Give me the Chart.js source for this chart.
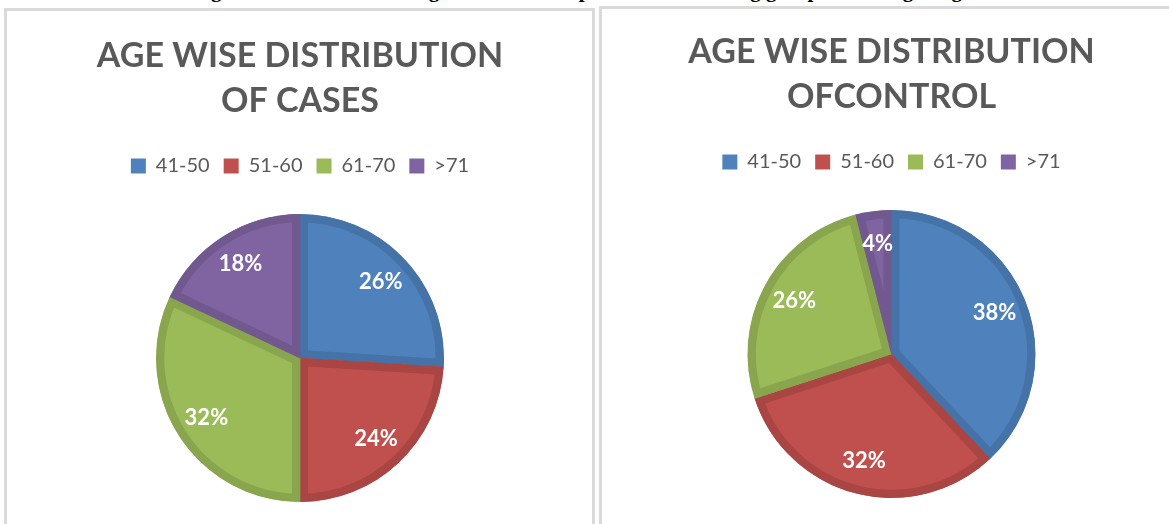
<!DOCTYPE html>
<html>
<head>
    <title>Age wise distribution</title>
    <script src="https://cdn.jsdelivr.net/npm/chart.js"></script>
    <style>
        body { margin: 0; width: 1169px; height: 524px; overflow: hidden; background: #fff; position: relative; }
        .caption { position: absolute; left: 0; width: 1169px; top: -22px; text-align: center;
                   font: bold 21px "Liberation Serif", serif; color: #000; white-space: nowrap; }
        .box { position: absolute; border: 3px solid #dadada; box-sizing: border-box; }
        canvas { position: absolute; }
    </style>
</head>
<body>
    <div class="caption">Figure 3: Pie chart showing distribution of patients in following group according to age.</div>
    <div class="box" style="left:4px; top:8px; width:591px; height:540px;"></div>
    <div class="box" style="left:599px; top:6px; width:600px; height:540px;"></div>
    <canvas id="casesChart" width="586" height="540" style="left:7px; top:12px;"></canvas>
    <canvas id="controlChart" width="583" height="540" style="left:600px; top:8px;"></canvas>
    <script>
        // age groups and percentages
        const ageGroups = ['41-50', '51-60', '61-70', '>71'];
        const casesValues = [26, 24, 32, 18];
        const controlValues = [38, 32, 26, 4];

        const fillColors = ['#4F81BD', '#C0504D', '#9BBB59', '#8064A2'];
        const edgeColors = ['#4572A7', '#A94643', '#89A54E', '#71588F'];

        // draws the white % labels inside the slices
        const sliceLabels = {
            id: 'sliceLabels',
            afterDatasetsDraw(chart) {
                const ctx = chart.ctx;
                const meta = chart.getDatasetMeta(0);
                const values = chart.data.datasets[0].data;
                ctx.save();
                ctx.fillStyle = '#ffffff';
                ctx.font = 'bold 22px Lato';
                ctx.textAlign = 'center';
                ctx.textBaseline = 'middle';
                meta.data.forEach((arc, i) => {
                    const p = arc.getProps(['x', 'y', 'startAngle', 'endAngle', 'outerRadius'], true);
                    const mid = (p.startAngle + p.endAngle) / 2;
                    const r = p.outerRadius * 0.77;
                    ctx.fillText(values[i] + '%', p.x + Math.cos(mid) * r, p.y + Math.sin(mid) * r);
                });
                ctx.restore();
            }
        };

        function makePie(id, title, values) {
            const ctx = document.getElementById(id).getContext('2d');
            return new Chart(ctx, {
                type: 'pie',
                data: {
                    labels: ageGroups,
                    datasets: [{
                        data: values,
                        backgroundColor: fillColors,
                        borderColor: edgeColors,
                        borderWidth: 8,
                        borderAlign: 'inner'
                    }]
                },
                options: {
                    responsive: false,
                    animation: false,
                    radius: 144,
                    layout: { padding: { bottom: 22 } },
                    plugins: {
                        title: {
                            display: true,
                            text: title,
                            color: '#595959',
                            font: { family: 'Lato', size: 34, weight: 'bold', lineHeight: '45px' },
                            padding: { top: 22, bottom: 18 }
                        },
                        legend: {
                            position: 'top',
                            labels: {
                                color: '#595959',
                                font: { family: 'Lato', size: 20 },
                                boxWidth: 15,
                                boxHeight: 15,
                                padding: 14,
                                generateLabels(chart) {
                                    return ageGroups.map((g, i) => ({
                                        text: g,
                                        fillStyle: fillColors[i],
                                        strokeStyle: fillColors[i],
                                        lineWidth: 0,
                                        fontColor: '#595959',
                                        index: i
                                    }));
                                }
                            }
                        },
                        tooltip: { enabled: false }
                    }
                },
                plugins: [sliceLabels]
            });
        }

        makePie('casesChart', ['AGE WISE DISTRIBUTION', 'OF CASES'], casesValues);
        makePie('controlChart', ['AGE WISE DISTRIBUTION', 'OFCONTROL'], controlValues);
    </script>
</body>
</html>
